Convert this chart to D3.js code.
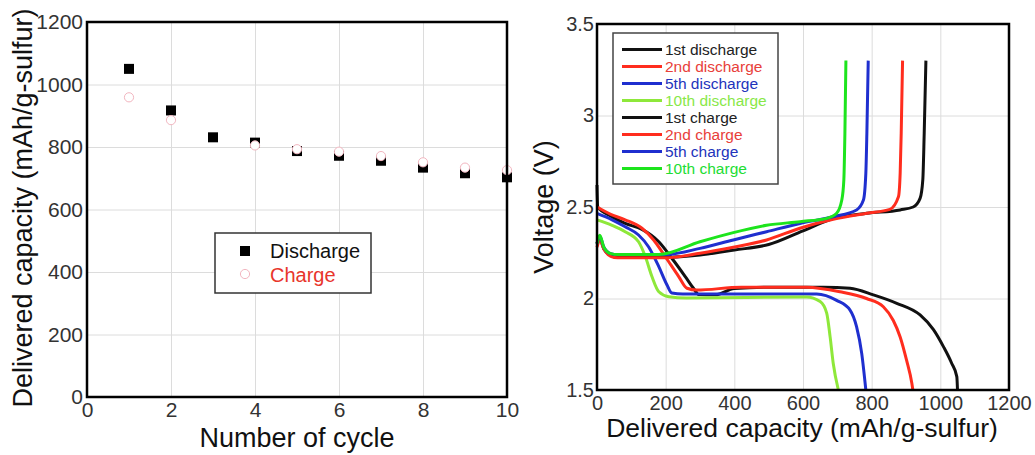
<!DOCTYPE html>
<html>
<head>
<meta charset="utf-8">
<script src="https://cdn.jsdelivr.net/npm/d3@7"></script>
<style>
  body { margin: 0; background: #fff; }
  svg { display: block; font-family: "Liberation Sans", Arial, sans-serif; }
  .grid line { stroke: #dcdcdc; stroke-width: 1; }
  .grid path { display: none; }
  .tick-labels path { display: none; }
  .tick-labels line { display: none; }
  .tick-labels text { fill: #333; font-size: 20px; }
  #x-axis-left text, #y-axis-left text { font-size: 21px; }
</style>
</head>
<body>
<div id="chart"></div>
<script>
// ---- left panel: capacity vs cycle ----
const cycles = [1, 2, 3, 4, 5, 6, 7, 8, 9, 10];
const dischargeCap = [1050, 917, 831, 814, 787, 772, 756, 734, 716, 703];
const chargeCap = [959, 886, null, 805, 793, 785, 771, 751, 734, 726];
const cycleTicks = [0, 2, 4, 6, 8, 10];
const capTicks = [0, 200, 400, 600, 800, 1000, 1200];

// ---- right panel: voltage profiles [capacity, voltage] ----
const discharge1 = [[0, 2.62], [2, 2.5], [40, 2.45], [82, 2.41], [131, 2.378], [180, 2.31], [218, 2.22], [257, 2.12], [281, 2.056], [296, 2.022], [345, 2.02], [400, 2.055], [500, 2.062], [660, 2.062], [737, 2.056], [805, 2.02], [873, 1.974], [941, 1.91], [980, 1.83], [1009, 1.737], [1033, 1.646], [1048, 1.573], [1050, 1.5]];
const discharge2 = [[0, 2.5], [40, 2.46], [82, 2.43], [131, 2.384], [165, 2.32], [199, 2.228], [238, 2.12], [262, 2.056], [290, 2.046], [420, 2.062], [610, 2.062], [708, 2.037], [785, 2.0], [834, 1.955], [863, 1.88], [883, 1.79], [902, 1.66], [917, 1.537], [920, 1.5]];
const discharge5 = [[0, 2.465], [44, 2.43], [82, 2.392], [121, 2.347], [150, 2.283], [180, 2.174], [204, 2.074], [218, 2.03], [250, 2.025], [640, 2.025], [698, 1.99], [737, 1.937], [756, 1.846], [771, 1.7], [783, 1.5]];
const discharge10 = [[0, 2.43], [44, 2.4], [82, 2.365], [121, 2.31], [141, 2.228], [160, 2.12], [180, 2.037], [209, 2.01], [260, 2.003], [610, 2.008], [650, 1.983], [669, 1.92], [679, 1.79], [688, 1.646], [703, 1.5]];
const charge1 = [[0, 2.3], [8, 2.33], [20, 2.27], [40, 2.235], [60, 2.225], [200, 2.225], [300, 2.238], [400, 2.265], [500, 2.295], [600, 2.37], [690, 2.438], [786, 2.466], [883, 2.484], [921, 2.5], [941, 2.547], [949, 2.65], [953, 2.9], [958, 3.3]];
const charge2 = [[0, 2.28], [8, 2.32], [20, 2.27], [40, 2.23], [60, 2.222], [200, 2.222], [300, 2.247], [397, 2.28], [494, 2.32], [591, 2.384], [688, 2.433], [786, 2.466], [853, 2.487], [878, 2.556], [883, 2.684], [886, 2.9], [890, 3.3]];
const charge5 = [[0, 2.3], [8, 2.34], [20, 2.28], [40, 2.245], [60, 2.24], [200, 2.24], [300, 2.274], [397, 2.32], [494, 2.365], [591, 2.41], [688, 2.447], [756, 2.484], [776, 2.538], [783, 2.684], [786, 2.9], [790, 3.3]];
const charge10 = [[0, 2.3], [8, 2.345], [20, 2.28], [40, 2.245], [60, 2.24], [180, 2.24], [300, 2.31], [397, 2.36], [494, 2.4], [591, 2.42], [669, 2.438], [698, 2.466], [713, 2.538], [719, 2.65], [722, 2.9], [725, 3.3]];
const profileNames = ["1st discharge", "2nd discharge", "5th discharge", "10th discharge", "1st charge", "2nd charge", "5th charge", "10th charge"];
const profileColors = ["#111111", "#ff2d1e", "#1f2fcf", "#8ee83a", "#111111", "#ff2d1e", "#1f2fcf", "#1de41d"];
const profileText = ["#222222", "#e8403a", "#2233bb", "#88e848", "#222222", "#e8403a", "#2233bb", "#22dd33"];
const profiles = [discharge1, discharge2, discharge5, discharge10, charge1, charge2, charge5, charge10];
const voltTicks = [1.5, 2, 2.5, 3, 3.5];
const profCapTicks = [0, 200, 400, 600, 800, 1000, 1200];

const w = 1035;
const h = 455;

const svg = d3.select("#chart")
  .append("svg")
  .attr("width", w)
  .attr("height", h);

// ===== left panel =====
const L = { x0: 87, x1: 507, y0: 22, y1: 397 };
const xL = d3.scaleLinear().domain([0, 10]).range([L.x0, L.x1]);
const yL = d3.scaleLinear().domain([0, 1200]).range([L.y1, L.y0]);

svg.append("g")
  .attr("class", "grid")
  .attr("transform", "translate(0," + L.y1 + ")")
  .call(d3.axisBottom(xL).tickValues(cycleTicks.slice(1, -1)).tickSize(-(L.y1 - L.y0)).tickFormat(""));
svg.append("g")
  .attr("class", "grid")
  .attr("transform", "translate(" + L.x0 + ",0)")
  .call(d3.axisLeft(yL).tickValues(capTicks.slice(1, -1)).tickSize(-(L.x1 - L.x0)).tickFormat(""));

svg.append("g")
  .attr("id", "x-axis-left")
  .attr("class", "tick-labels")
  .attr("transform", "translate(0," + L.y1 + ")")
  .call(d3.axisBottom(xL).tickValues(cycleTicks).tickSize(0).tickPadding(5).tickFormat(d3.format("d")));
svg.append("g")
  .attr("id", "y-axis-left")
  .attr("class", "tick-labels")
  .attr("transform", "translate(" + L.x0 + ",0)")
  .call(d3.axisLeft(yL).tickValues(capTicks).tickSize(0).tickPadding(4).tickFormat(d3.format("d")));

const sq = 10;
svg.append("g").selectAll("rect")
  .data(cycles.map((c, i) => [c, dischargeCap[i]]))
  .enter()
  .append("rect")
  .attr("x", (d) => xL(d[0]) - sq / 2)
  .attr("y", (d) => yL(d[1]) - sq / 2)
  .attr("width", sq)
  .attr("height", sq)
  .attr("fill", "#000");

svg.append("g").selectAll("circle")
  .data(cycles.map((c, i) => [c, chargeCap[i]]).filter((d) => d[1] != null))
  .enter()
  .append("circle")
  .attr("cx", (d) => xL(d[0]))
  .attr("cy", (d) => yL(d[1]))
  .attr("r", 4.6)
  .attr("fill", "#fff")
  .attr("stroke", "#f2b6c0")
  .attr("stroke-width", 1);

svg.append("rect")
  .attr("x", L.x0).attr("y", L.y0)
  .attr("width", L.x1 - L.x0).attr("height", L.y1 - L.y0)
  .attr("fill", "none").attr("stroke", "#000").attr("stroke-width", 2.5);

// legend left
const legL = svg.append("g");
legL.append("rect")
  .attr("x", 215).attr("y", 233).attr("width", 156).attr("height", 60)
  .attr("fill", "#fff").attr("stroke", "#333").attr("stroke-width", 1.5);
legL.append("rect").attr("x", 240).attr("y", 246).attr("width", sq).attr("height", sq).attr("fill", "#000");
legL.append("circle").attr("cx", 245).attr("cy", 274).attr("r", 4.6)
  .attr("fill", "#fff").attr("stroke", "#f2b6c0").attr("stroke-width", 1);
legL.append("text").attr("x", 270).attr("y", 258).attr("font-size", 20).attr("fill", "#111").text("Discharge");
legL.append("text").attr("x", 270).attr("y", 282).attr("font-size", 20).attr("fill", "#e8352b").text("Charge");

svg.append("text")
  .attr("x", 297).attr("y", 447)
  .attr("text-anchor", "middle")
  .attr("font-size", 27).attr("fill", "#111")
  .text("Number of cycle");
svg.append("text")
  .attr("transform", "translate(32,208) rotate(-90)")
  .attr("text-anchor", "middle")
  .attr("font-size", 27).attr("fill", "#111")
  .text("Delivered capacity (mAh/g-sulfur)");

// ===== right panel =====
const R = { x0: 597, x1: 1009, y0: 24, y1: 390 };
const xR = d3.scaleLinear().domain([0, 1200]).range([R.x0, R.x1]);
const yR = d3.scaleLinear().domain([1.5, 3.5]).range([R.y1, R.y0]);

svg.append("g")
  .attr("class", "grid")
  .attr("transform", "translate(0," + R.y1 + ")")
  .call(d3.axisBottom(xR).tickValues(profCapTicks.slice(1, -1)).tickSize(-(R.y1 - R.y0)).tickFormat(""));
svg.append("g")
  .attr("class", "grid")
  .attr("transform", "translate(" + R.x0 + ",0)")
  .call(d3.axisLeft(yR).tickValues(voltTicks.slice(1, -1)).tickSize(-(R.x1 - R.x0)).tickFormat(""));

svg.append("g")
  .attr("id", "x-axis-right")
  .attr("class", "tick-labels")
  .attr("transform", "translate(0," + R.y1 + ")")
  .call(d3.axisBottom(xR).tickValues(profCapTicks).tickSize(0).tickPadding(6).tickFormat(d3.format("d")));
svg.append("g")
  .attr("id", "y-axis-right")
  .attr("class", "tick-labels")
  .attr("transform", "translate(" + R.x0 + ",0)")
  .call(d3.axisLeft(yR).tickValues(voltTicks).tickSize(0).tickPadding(3).tickFormat(d3.format("")));

const line = d3.line()
  .x((d) => xR(d[0]))
  .y((d) => yR(d[1]))
  .curve(d3.curveMonotoneX);

svg.append("g")
  .selectAll("path")
  .data(profiles)
  .enter()
  .append("path")
  .attr("d", line)
  .attr("fill", "none")
  .attr("stroke", (d, i) => profileColors[i])
  .attr("stroke-width", 3)
  .attr("stroke-linejoin", "round");

svg.append("rect")
  .attr("x", R.x0).attr("y", R.y0)
  .attr("width", R.x1 - R.x0).attr("height", R.y1 - R.y0)
  .attr("fill", "none").attr("stroke", "#000").attr("stroke-width", 2.5);

// legend right
const legR = svg.append("g");
legR.append("rect")
  .attr("x", 613).attr("y", 33).attr("width", 165).attr("height", 151)
  .attr("fill", "#fff").attr("stroke", "#444").attr("stroke-width", 1.5);
const items = legR.selectAll("g.item")
  .data(profileNames)
  .enter()
  .append("g")
  .attr("class", "item")
  .attr("transform", (d, i) => "translate(0," + (49.5 + i * 17) + ")");
items.append("line")
  .attr("x1", 622).attr("x2", 662)
  .attr("stroke", (d, i) => profileColors[i])
  .attr("stroke-width", 3);
items.append("text")
  .attr("x", 665).attr("y", 5.5)
  .attr("font-size", 15.5)
  .attr("fill", (d, i) => profileText[i])
  .text((d) => d);

svg.append("text")
  .attr("x", 802).attr("y", 437)
  .attr("text-anchor", "middle")
  .attr("font-size", 26.5).attr("fill", "#111")
  .text("Delivered capacity (mAh/g-sulfur)");
svg.append("text")
  .attr("transform", "translate(553,207) rotate(-90)")
  .attr("text-anchor", "middle")
  .attr("font-size", 27).attr("fill", "#111")
  .text("Voltage (V)");
</script>
</body>
</html>
